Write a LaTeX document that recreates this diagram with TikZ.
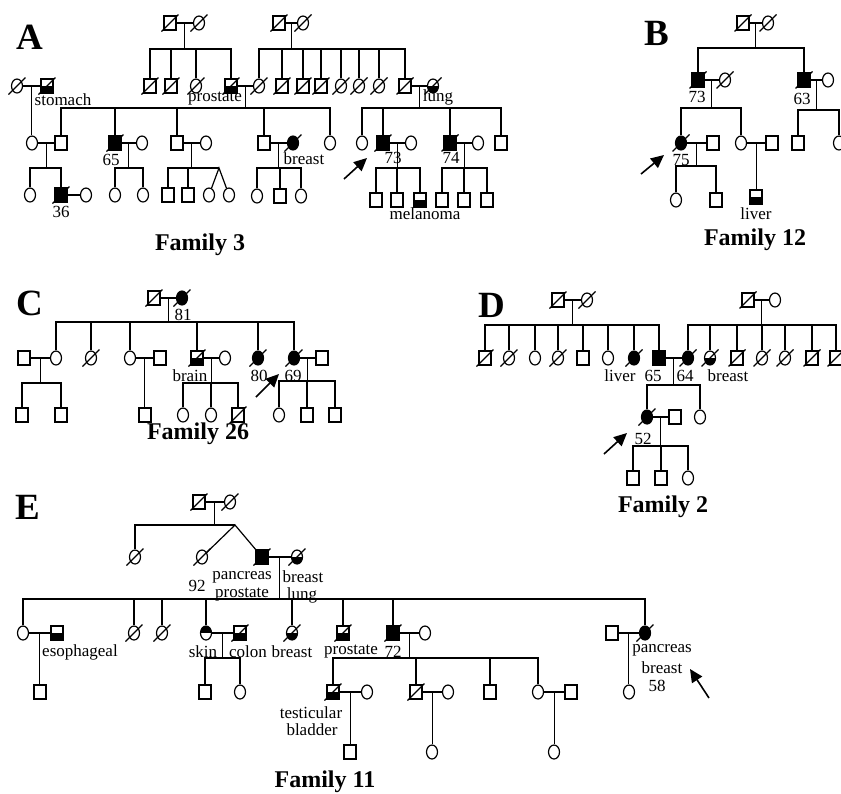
\documentclass[tikz,border=0pt]{standalone}
\usepackage{fontspec}
\setmainfont{Liberation Serif}
\usetikzlibrary{shapes,arrows.meta}
\tikzset{
  sq/.style={draw,rectangle,minimum width=12pt,minimum height=14pt,inner sep=0pt},
  ci/.style={draw,ellipse,minimum width=11pt,minimum height=14pt,inner sep=0pt},
  aff/.style={fill=black},
  low/.style={path picture={\fill (path picture bounding box.west) rectangle (path picture bounding box.south east);}},
  upp/.style={path picture={\fill (path picture bounding box.west) rectangle (path picture bounding box.north east);}},
  dead/.style={append after command={([shift={(-8.5,8.5)}]\tikzlastnode.center) edge ([shift={(8.5,-8.5)}]\tikzlastnode.center)}},
  lbl/.style={font=\fontsize{17}{17}\selectfont,inner sep=0pt},
  ttl/.style={font=\fontsize{24}{24}\selectfont\bfseries,inner sep=0pt},
  panel/.style={font=\fontsize{37}{37}\selectfont\bfseries,inner sep=0pt},
  prob/.style={line width=1.6pt,-{Triangle[length=13pt,width=12pt]}}
}
\begin{document}
\begin{tikzpicture}[x=1pt,y=-1pt,line width=1.2pt]
\useasboundingbox (0,0) rectangle (841,793);

% ---------------- A : family 3
\node[panel] (aL) at (30,37) {A};
\node[sq,dead] (aI1) at (170,23) {};
\node[ci,dead] (aI2) at (199,23) {};
\node[sq,dead] (aI3) at (279,23) {};
\node[ci,dead] (aI4) at (303,23) {};
\node[ci,dead] (aII1) at (17,86) {};
\node[sq,low,dead] (aII2) at (47,86) {};
\node[sq,dead] (aII3) at (150,86) {};
\node[sq,dead] (aII4) at (171,86) {};
\node[ci,dead] (aII5) at (196,86) {};
\node[sq,low,dead] (aII6) at (231,86) {};
\node[ci,dead] (aII7) at (259,86) {};
\node[sq,dead] (aII8) at (282,86) {};
\node[sq,dead] (aII9) at (303,86) {};
\node[sq,dead] (aII10) at (321,86) {};
\node[ci,dead] (aII11) at (341,86) {};
\node[ci,dead] (aII12) at (359,86) {};
\node[ci,dead] (aII13) at (379,86) {};
\node[sq,dead] (aII14) at (405,86) {};
\node[ci,low,dead] (aII15) at (433,86) {};
\node[ci] (aIII1) at (32,143) {};
\node[sq] (aIII2) at (61,143) {};
\node[sq,aff,dead] (aIII3) at (115,143) {};
\node[ci] (aIII4) at (142,143) {};
\node[sq] (aIII5) at (177,143) {};
\node[ci] (aIII6) at (206,143) {};
\node[sq] (aIII7) at (264,143) {};
\node[ci,aff,dead] (aIII8) at (293,143) {};
\node[ci] (aIII9) at (330,143) {};
\node[ci] (aIII10) at (362,143) {};
\node[sq,aff,dead] (aIII11) at (383,143) {};
\node[ci] (aIII12) at (411,143) {};
\node[sq,aff,dead] (aIII13) at (450,143) {};
\node[ci] (aIII14) at (478,143) {};
\node[sq] (aIII15) at (501,143) {};
\node[ci] (aIV1) at (30,195) {};
\node[sq,aff,dead] (aIV2) at (61,195) {};
\node[ci] (aIV3) at (86,195) {};
\node[ci] (aIV4) at (115,195) {};
\node[ci] (aIV5) at (143,195) {};
\node[sq] (aIV6) at (168,195) {};
\node[sq] (aIV7) at (188,195) {};
\node[ci] (aIV8) at (209,195) {};
\node[ci] (aIV9) at (229,195) {};
\node[ci] (aIV10) at (257,196) {};
\node[sq] (aIV11) at (280,196) {};
\node[ci] (aIV12) at (301,196) {};
\node[sq] (aIV13) at (376,200) {};
\node[sq] (aIV14) at (397,200) {};
\node[sq,low] (aIV15) at (420,200) {};
\node[sq] (aIV16) at (442,200) {};
\node[sq] (aIV17) at (464,200) {};
\node[sq] (aIV18) at (487,200) {};

\draw (aI1) -- coordinate[midway] (aU1) (aI2);
\draw (aU1) -- ++(0,26) coordinate (aS1);
\draw (aII3) |- (aII6 |- aS1) -- (aII6);
\foreach \k in {4,5} \draw (aII\k) -- (aII\k |- aS1);
\draw (aI3) -- coordinate[midway] (aU2) (aI4);
\draw (aU2) -- ++(0,26) coordinate (aS2);
\draw (aII7) |- (aII14 |- aS2) -- (aII14);
\foreach \k in {8,...,13} \draw (aII\k) -- (aII\k |- aS2);
\draw (aII1) -- coordinate[midway] (aU3) (aII2);
\draw (aU3) -- (aU3 |- aIII1.north);
\draw (aII6) -- coordinate[midway] (aU4) (aII7);
\draw (aU4) -- ++(0,22) coordinate (aS4);
\draw (aIII2) |- (aIII9 |- aS4) -- (aIII9);
\foreach \k in {3,5,7} \draw (aIII\k) -- (aIII\k |- aS4);
\draw (aII14) -- coordinate[midway] (aU5) (aII15);
\draw (aU5) -- ++(0,22) coordinate (aS5);
\draw (aIII10) |- (aIII15 |- aS5) -- (aIII15);
\foreach \k in {11,13} \draw (aIII\k) -- (aIII\k |- aS5);
\draw (aIII1) -- coordinate[midway] (aU6) (aIII2);
\draw (aU6) -- ++(0,25) coordinate (aS6);
\draw (aIV1) |- (aIV2 |- aS6) -- (aIV2);
\draw (aIV2) -- (aIV3);
\draw (aIII3) -- coordinate[midway] (aU7) (aIII4);
\draw (aU7) -- ++(0,25) coordinate (aS7);
\draw (aIV4) |- (aIV5 |- aS7) -- (aIV5);
\draw (aIII5) -- coordinate[midway] (aU8) (aIII6);
\draw (aU8) -- ++(0,25) coordinate (aS8);
\coordinate (aTw) at (219,168);
\draw (aIV6) |- (aTw);
\draw (aIV7) -- (aIV7 |- aTw);
\draw (aIV8) -- (aTw) -- (aIV9);
\draw (aIII7) -- coordinate[midway] (aU9) (aIII8);
\draw (aU9) -- ++(0,25) coordinate (aS9);
\draw (aIV10) |- (aIV12 |- aS9) -- (aIV12);
\draw (aIV11) -- (aIV11 |- aS9);
\draw (aIII11) -- coordinate[midway] (aU10) (aIII12);
\draw (aU10) -- ++(0,25) coordinate (aS10);
\draw (aIV13) |- (aIV15 |- aS10) -- (aIV15);
\draw (aIV14) -- (aIV14 |- aS10);
\draw (aIII13) -- coordinate[midway] (aU11) (aIII14);
\draw (aU11) -- ++(0,25) coordinate (aS11);
\draw (aIV16) |- (aIV18 |- aS11) -- (aIV18);
\draw (aIV17) -- (aIV17 |- aS11);

\node[lbl] (aT1) at (63,100) {stomach};
\node[lbl] (aT2) at (215,99) {prostate};
\node[lbl] (aT3) at (438,97) {lung};
\node[lbl] (aT4) at (111,160) {65};
\node[lbl] (aT5) at (304,159) {breast};
\node[lbl] (aT6) at (393,158) {73};
\node[lbl] (aT7) at (451,158) {74};
\node[lbl] (aT8) at (61,212) {36};
\node[lbl] (aT9) at (425,214) {melanoma};
\node[ttl] (aF) at (200,245) {Family 3};
\coordinate (aP0) at (344,179);
\coordinate (aP1) at (367,158);
\draw[prob] (aP0) -- (aP1);

% ---------------- B : family 12
\node[panel] (bL) at (657,33) {B};
\node[sq,dead] (bI1) at (743,23) {};
\node[ci,dead] (bI2) at (768,23) {};
\node[sq,aff,dead] (bII1) at (698,80) {};
\node[ci,dead] (bII2) at (725,80) {};
\node[sq,aff,dead] (bII3) at (804,80) {};
\node[ci] (bII4) at (828,80) {};
\node[ci,aff,dead] (bIII1) at (681,143) {};
\node[sq] (bIII2) at (713,143) {};
\node[ci] (bIII3) at (741,143) {};
\node[sq] (bIII4) at (772,143) {};
\node[sq] (bIII5) at (798,143) {};
\node[ci] (bIII6) at (839,143) {};
\node[ci] (bIV1) at (676,200) {};
\node[sq] (bIV2) at (716,200) {};
\node[sq,low] (bIV3) at (756,197) {};

\draw (bI1) -- coordinate[midway] (bU1) (bI2);
\draw (bU1) -- ++(0,25) coordinate (bS1);
\draw (bII1) |- (bII3 |- bS1) -- (bII3);
\draw (bII1) -- coordinate[midway] (bU2) (bII2);
\draw (bU2) -- ++(0,28) coordinate (bS2);
\draw (bIII1) |- (bIII3 |- bS2) -- (bIII3);
\draw (bII3) -- coordinate[midway] (bU3) (bII4);
\draw (bU3) -- ++(0,30) coordinate (bS3);
\draw (bIII5) |- (bIII6 |- bS3) -- (bIII6);
\draw (bIII1) -- coordinate[midway] (bU4) (bIII2);
\draw (bU4) -- ++(0,23) coordinate (bS4);
\draw (bIV1) |- (bIV2 |- bS4) -- (bIV2);
\draw (bIII3) -- coordinate[midway] (bU5) (bIII4);
\draw (bU5) -- (bU5 |- bIV3.north);

\node[lbl] (bT1) at (697,97) {73};
\node[lbl] (bT2) at (802,99) {63};
\node[lbl] (bT3) at (681,160) {75};
\node[lbl] (bT4) at (756,214) {liver};
\node[ttl] (bF) at (755,240) {Family 12};
\coordinate (bP0) at (641,174);
\coordinate (bP1) at (664,155);
\draw[prob] (bP0) -- (bP1);

% ---------------- C : family 26
\node[panel] (cL) at (30,303) {C};
\node[sq,dead] (cI1) at (154,298) {};
\node[ci,aff,dead] (cI2) at (182,298) {};
\node[sq] (cII1) at (24,358) {};
\node[ci] (cII2) at (56,358) {};
\node[ci,dead] (cII3) at (91,358) {};
\node[ci] (cII4) at (130,358) {};
\node[sq] (cII5) at (160,358) {};
\node[sq,low,dead] (cII6) at (197,358) {};
\node[ci] (cII7) at (225,358) {};
\node[ci,aff,dead] (cII8) at (258,358) {};
\node[ci,aff,dead] (cII9) at (294,358) {};
\node[sq] (cII10) at (322,358) {};
\node[sq] (cIII1) at (22,415) {};
\node[sq] (cIII2) at (61,415) {};
\node[sq] (cIII3) at (145,415) {};
\node[ci] (cIII4) at (183,415) {};
\node[ci] (cIII5) at (211,415) {};
\node[sq,dead] (cIII6) at (238,415) {};
\node[ci] (cIII7) at (279,415) {};
\node[sq] (cIII8) at (307,415) {};
\node[sq] (cIII9) at (335,415) {};

\draw (cI1) -- coordinate[midway] (cU1) (cI2);
\draw (cU1) -- ++(0,24) coordinate (cS1);
\draw (cII2) |- (cII9 |- cS1) -- (cII9);
\foreach \k in {3,4,6,8} \draw (cII\k) -- (cII\k |- cS1);
\draw (cII1) -- coordinate[midway] (cU2) (cII2);
\draw (cU2) -- ++(0,25) coordinate (cS2);
\draw (cIII1) |- (cIII2 |- cS2) -- (cIII2);
\draw (cII4) -- coordinate[midway] (cU3) (cII5);
\draw (cU3) -- (cU3 |- cIII3.north);
\draw (cII6) -- coordinate[midway] (cU4) (cII7);
\draw (cU4) -- ++(0,25) coordinate (cS4);
\draw (cIII4) |- (cIII6 |- cS4) -- (cIII6);
\draw (cIII5) -- (cIII5 |- cS4);
\draw (cII9) -- coordinate[midway] (cU5) (cII10);
\draw (cU5) -- ++(0,23) coordinate (cS5);
\draw (cIII7) |- (cIII9 |- cS5) -- (cIII9);
\draw (cIII8) -- (cIII8 |- cS5);

\node[lbl] (cT1) at (183,315) {81};
\node[lbl] (cT2) at (190,376) {brain};
\node[lbl] (cT3) at (259,376) {80};
\node[lbl] (cT4) at (293,376) {69};
\node[ttl] (cF) at (198,434) {Family 26};
\coordinate (cP0) at (256,397);
\coordinate (cP1) at (279,374);
\draw[prob] (cP0) -- (cP1);

% ---------------- D : family 2
\node[panel] (dL) at (492,305) {D};
\node[sq,dead] (dI1) at (558,300) {};
\node[ci,dead] (dI2) at (587,300) {};
\node[sq,dead] (dI3) at (748,300) {};
\node[ci] (dI4) at (775,300) {};
\node[sq,dead] (dII1) at (485,358) {};
\node[ci,dead] (dII2) at (509,358) {};
\node[ci] (dII3) at (535,358) {};
\node[ci,dead] (dII4) at (558,358) {};
\node[sq] (dII5) at (583,358) {};
\node[ci] (dII6) at (608,358) {};
\node[ci,aff,dead] (dII7) at (634,358) {};
\node[sq,aff] (dII8) at (659,358) {};
\node[ci,aff,dead] (dII9) at (688,358) {};
\node[ci,low,dead] (dII10) at (710,358) {};
\node[sq,dead] (dII11) at (737,358) {};
\node[ci,dead] (dII12) at (762,358) {};
\node[ci,dead] (dII13) at (785,358) {};
\node[sq,dead] (dII14) at (812,358) {};
\node[sq,dead] (dII15) at (836,358) {};
\node[ci,aff,dead] (dIII1) at (647,417) {};
\node[sq] (dIII2) at (675,417) {};
\node[ci] (dIII3) at (700,417) {};
\node[sq] (dIV1) at (633,478) {};
\node[sq] (dIV2) at (661,478) {};
\node[ci] (dIV3) at (688,478) {};

\draw (dI1) -- coordinate[midway] (dU1) (dI2);
\draw (dU1) -- ++(0,25) coordinate (dS1);
\draw (dII1) |- (dII8 |- dS1) -- (dII8);
\foreach \k in {2,...,7} \draw (dII\k) -- (dII\k |- dS1);
\draw (dI3) -- coordinate[midway] (dU2) (dI4);
\draw (dU2) -- ++(0,25) coordinate (dS2);
\draw (dII9) |- (dII15 |- dS2) -- (dII15);
\foreach \k in {10,...,14} \draw (dII\k) -- (dII\k |- dS2);
\draw (dII8) -- coordinate[midway] (dU3) (dII9);
\draw (dU3) -- ++(0,27) coordinate (dS3);
\draw (dIII1) |- (dIII3 |- dS3) -- (dIII3);
\draw (dIII1) -- coordinate[midway] (dU4) (dIII2);
\draw (dU4) -- ++(0,29) coordinate (dS4);
\draw (dIV1) |- (dIV3 |- dS4) -- (dIV3);
\draw (dIV2) -- (dIV2 |- dS4);

\node[lbl] (dT1) at (620,376) {liver};
\node[lbl] (dT2) at (653,376) {65};
\node[lbl] (dT3) at (685,376) {64};
\node[lbl] (dT4) at (728,376) {breast};
\node[lbl] (dT5) at (643,439) {52};
\node[ttl] (dF) at (663,507) {Family 2};
\coordinate (dP0) at (604,454);
\coordinate (dP1) at (627,433);
\draw[prob] (dP0) -- (dP1);

% ---------------- E : family 11
\node[panel] (eL) at (28,507) {E};
\node[sq,dead] (eI1) at (199,502) {};
\node[ci,dead] (eI2) at (230,502) {};
\node[ci,dead] (eII1) at (135,557) {};
\node[ci,dead] (eII2) at (202,557) {};
\node[sq,aff,dead] (eII3) at (262,557) {};
\node[ci,low,dead] (eII4) at (297,557) {};
\node[ci] (eIII1) at (23,633) {};
\node[sq,low] (eIII2) at (57,633) {};
\node[ci,dead] (eIII3) at (134,633) {};
\node[ci,dead] (eIII4) at (162,633) {};
\node[ci,upp] (eIII5) at (206,633) {};
\node[sq,low,dead] (eIII6) at (240,633) {};
\node[ci,low,dead] (eIII7) at (292,633) {};
\node[sq,low,dead] (eIII8) at (343,633) {};
\node[sq,aff,dead] (eIII9) at (393,633) {};
\node[ci] (eIII10) at (425,633) {};
\node[sq] (eIII11) at (612,633) {};
\node[ci,aff,dead] (eIII12) at (645,633) {};
\node[sq] (eIV1) at (40,692) {};
\node[sq] (eIV2) at (205,692) {};
\node[ci] (eIV3) at (240,692) {};
\node[sq,low,dead] (eIV4) at (333,692) {};
\node[ci] (eIV5) at (367,692) {};
\node[sq,dead] (eIV6) at (416,692) {};
\node[ci] (eIV7) at (448,692) {};
\node[sq] (eIV8) at (490,692) {};
\node[ci] (eIV9) at (538,692) {};
\node[sq] (eIV10) at (571,692) {};
\node[ci] (eIV11) at (629,692) {};
\node[sq] (eV1) at (350,752) {};
\node[ci] (eV2) at (432,752) {};
\node[ci] (eV3) at (554,752) {};

\draw (eI1) -- coordinate[midway] (eU1) (eI2);
\draw (eU1) -- ++(0,23) coordinate (eS1);
\coordinate (eTw) at (235,525);
\draw (eII1) |- (eTw);
\draw (eII2) -- (eTw) -- (eII3);
\draw (eII3) -- coordinate[midway] (eU2) (eII4);
\draw (eU2) -- ++(0,42) coordinate (eS2);
\draw (eIII1) |- (eIII12 |- eS2) -- (eIII12);
\foreach \k in {3,4,5,7,8,9} \draw (eIII\k) -- (eIII\k |- eS2);
\draw (eIII1) -- coordinate[midway] (eU3) (eIII2);
\draw (eU3) -- (eU3 |- eIV1.north);
\draw (eIII5) -- coordinate[midway] (eU4) (eIII6);
\draw (eU4) -- ++(0,25) coordinate (eS4);
\draw (eIV2) |- (eIV3 |- eS4) -- (eIV3);
\draw (eIII9) -- coordinate[midway] (eU5) (eIII10);
\draw (eU5) -- ++(0,25) coordinate (eS5);
\draw (eIV4) |- (eIV9 |- eS5) -- (eIV9);
\foreach \k in {6,8} \draw (eIV\k) -- (eIV\k |- eS5);
\draw (eIII11) -- coordinate[midway] (eU6) (eIII12);
\draw (eU6) -- (eU6 |- eIV11.north);
\draw (eIV4) -- coordinate[midway] (eU7) (eIV5);
\draw (eU7) -- (eU7 |- eV1.north);
\draw (eIV6) -- coordinate[midway] (eU8) (eIV7);
\draw (eU8) -- (eU8 |- eV2.north);
\draw (eIV9) -- coordinate[midway] (eU9) (eIV10);
\draw (eU9) -- (eU9 |- eV3.north);

\node[lbl] (eT1) at (197,586) {92};
\node[lbl] (eT2) at (242,577) {pancreas};
\node[lbl] (eT3) at (242,595) {prostate};
\node[lbl] (eT4) at (303,577) {breast};
\node[lbl] (eT5) at (302,595) {lung};
\node[lbl] (eT6) at (80,652) {esophageal};
\node[lbl] (eT7) at (203,652) {skin};
\node[lbl] (eT8) at (248,652) {colon};
\node[lbl] (eT9) at (292,652) {breast};
\node[lbl] (eT10) at (351,652) {prostate};
\node[lbl] (eT11) at (393,652) {72};
\node[lbl] (eT12) at (311,713) {testicular};
\node[lbl] (eT13) at (312,730) {bladder};
\node[lbl] (eT14) at (662,650) {pancreas};
\node[lbl] (eT15) at (662,668) {breast};
\node[lbl] (eT16) at (657,686) {58};
\node[ttl] (eF) at (325,782) {Family 11};
\coordinate (eP0) at (709,698);
\coordinate (eP1) at (690,669);
\draw[prob] (eP0) -- (eP1);
\end{tikzpicture}
\end{document}
